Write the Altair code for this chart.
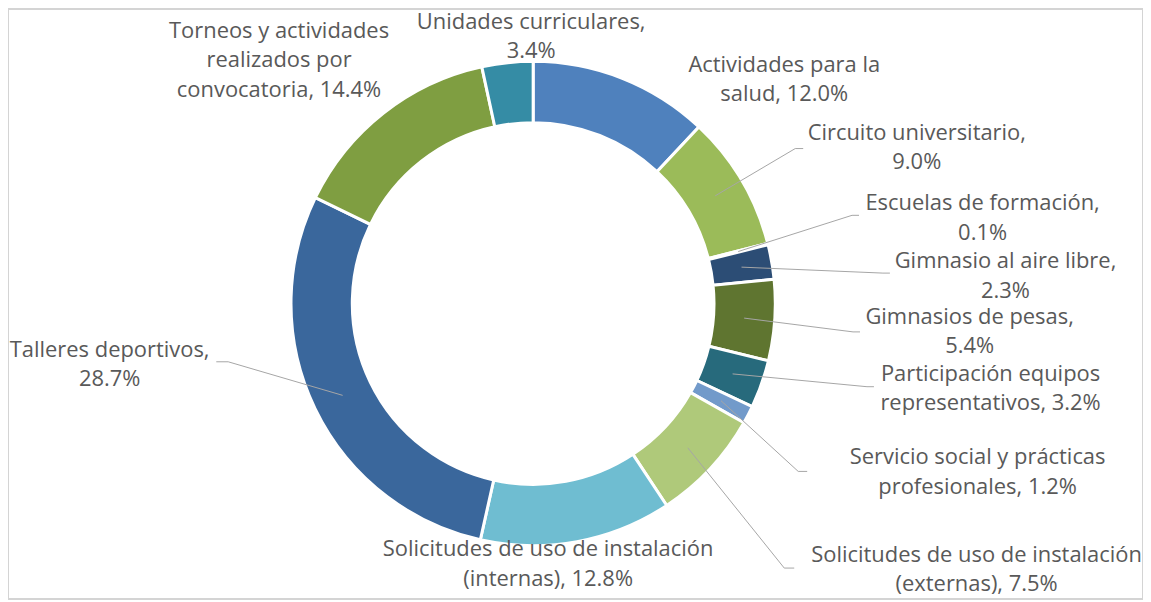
import altair as alt
import pandas as pd

# ---- data ----
categories = [
    "Actividades para la salud",
    "Circuito universitario",
    "Escuelas de formación",
    "Gimnasio al aire libre",
    "Gimnasios de pesas",
    "Participación equipos representativos",
    "Servicio social y prácticas profesionales",
    "Solicitudes de uso de instalación (externas)",
    "Solicitudes de uso de instalación (internas)",
    "Talleres deportivos",
    "Torneos y actividades realizados por convocatoria",
    "Unidades curriculares",
]
values = [12.0, 9.0, 0.1, 2.3, 5.4, 3.2, 1.2, 7.5, 12.8, 28.7, 14.4, 3.4]
colors = ["#4F81BD", "#9BBB59", "#4BACC6", "#2C4D75", "#5F7530", "#276A7C",
          "#729ACA", "#AFC97A", "#6FBDD1", "#3A679C", "#7F9E41", "#358CA5"]
label_lines = [
    ["Actividades para la", "salud, 12.0%"],
    ["Circuito universitario,", "9.0%"],
    ["Escuelas de formación,", "0.1%"],
    ["Gimnasio al aire libre,", "2.3%"],
    ["Gimnasios de pesas,", "5.4%"],
    ["Participación equipos", "representativos, 3.2%"],
    ["Servicio social y prácticas", "profesionales, 1.2%"],
    ["Solicitudes de uso de instalación", "(externas), 7.5%"],
    ["Solicitudes de uso de instalación", "(internas), 12.8%"],
    ["Talleres deportivos,", "28.7%"],
    ["Torneos y actividades", "realizados por", "convocatoria, 14.4%"],
    ["Unidades curriculares,", "3.4%"],
]

# ---- layout (page pixel positions of labels / leader lines) ----
OFF = 8
label_x = [787, 920, 986, 1009, 973, 994, 981, 980, 550, 110, 280, 533]
label_y = [64, 132, 203, 261, 317, 374, 458, 556, 550, 350, 30, 21]
elbow_x = [None, 798, 855, 886, 856, 870, 801, 787, None, 229, None, None]
elbow_y = [None, 148, 215, 273, 332, 387, 472, 569, None, 362, None, None]
end_x = [None, 806, 862, 893, 863, 877, 810, 797, None, 217, None, None]

W, H = 1139, 592
CX, CY = 535 - OFF, 303.5 - OFF
R_OUT, R_IN = 243, 181.5
R_MID = (R_OUT + R_IN) / 2

df = pd.DataFrame({
    "cat": categories,
    "value": values,
    "idx": list(range(len(categories))),
    "lines": label_lines,
    "lx": [v - OFF for v in label_x],
    "ly": [v - OFF for v in label_y],
    "bx": [None if v is None else v - OFF for v in elbow_x],
    "by": [None if v is None else v - OFF for v in elbow_y],
    "ex": [None if v is None else v - OFF for v in end_x],
})

xs = alt.Scale(domain=[0, W], nice=False, zero=False)
ys = alt.Scale(domain=[H, 0], nice=False, zero=False)

base = alt.Chart(df)

arcs = base.mark_arc(outerRadius=R_OUT, innerRadius=R_IN, stroke="white", strokeWidth=3).encode(
    theta=alt.Theta("value:Q", stack=True),
    order=alt.Order("idx:Q"),
    color=alt.Color("cat:N", scale=alt.Scale(domain=categories, range=colors), legend=None),
    x=alt.value(CX),
    y=alt.value(CY),
)

lead = base.transform_window(
    cum="sum(value)", sort=[alt.SortField("idx")], frame=[None, 0]
).transform_joinaggregate(total="sum(value)").transform_calculate(
    mid="(datum.cum - datum.value/2) / datum.total * 2 * PI"
).transform_calculate(
    sx=f"{CX} + {R_MID} * sin(datum.mid)",
    sy=f"{CY} - {R_MID} * cos(datum.mid)",
).transform_filter("datum.bx != null")

diag = lead.mark_rule(color="#A6A6A6", strokeWidth=1).encode(
    x=alt.X("sx:Q", scale=xs, axis=None),
    y=alt.Y("sy:Q", scale=ys, axis=None),
    x2="bx:Q",
    y2="by:Q",
)
horiz = lead.mark_rule(color="#A6A6A6", strokeWidth=1).encode(
    x=alt.X("bx:Q", scale=xs, axis=None),
    x2="ex:Q",
    y=alt.Y("by:Q", scale=ys, axis=None),
)

texts = base.mark_text(font="Open Sans", fontSize=22, color="#595959", align="center",
                       baseline="middle", lineHeight=29.5).encode(
    x=alt.X("lx:Q", scale=xs, axis=None),
    y=alt.Y("ly:Q", scale=ys, axis=None),
    text="lines",
)

chart = alt.layer(arcs, diag, horiz, texts).properties(
    width=W, height=H, padding=0, autosize=alt.AutoSizeParams(type="none")
).configure_view(stroke="#D4D4D4", strokeWidth=2)

chart.save("out.html", embed_options={"renderer": "svg", "actions": False})
